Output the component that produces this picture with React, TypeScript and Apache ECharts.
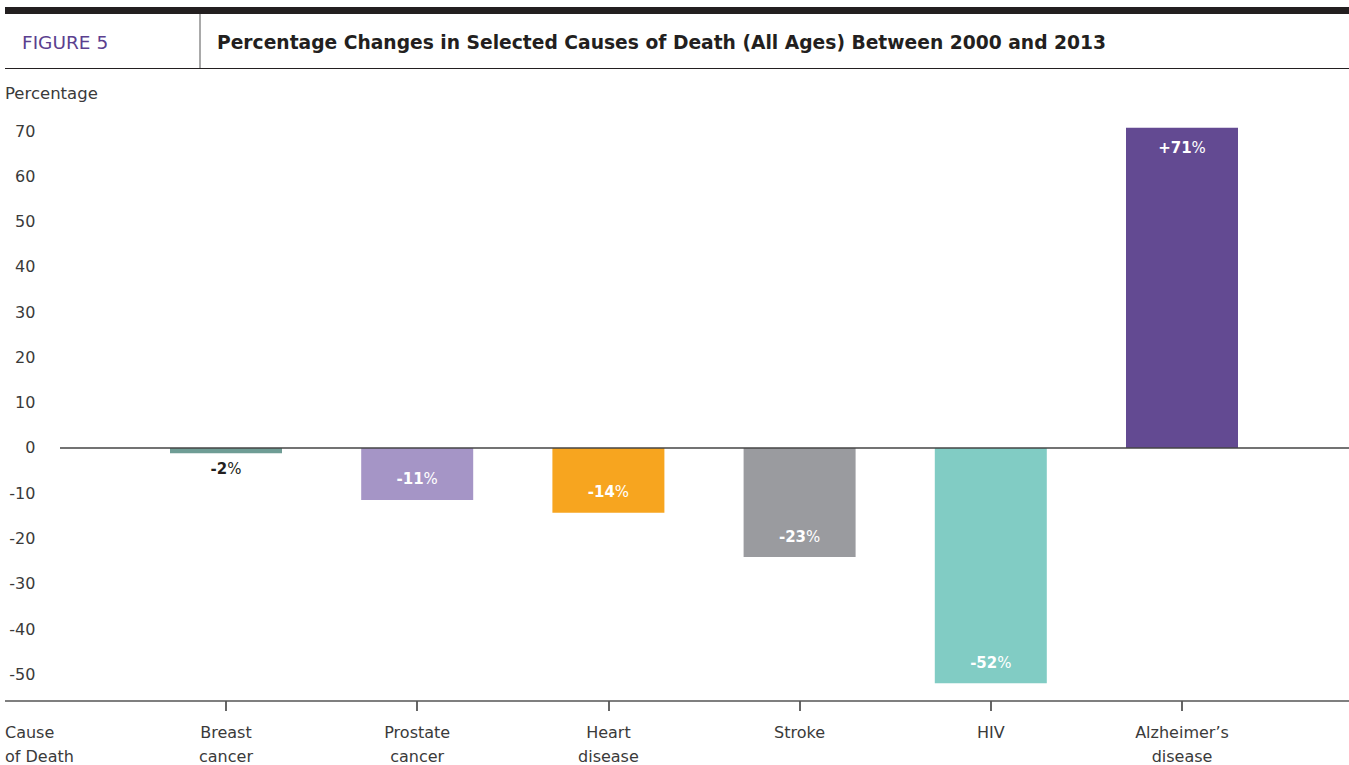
import React, { useEffect, useRef } from "react";
import * as echarts from "echarts";

const categories = ["Breast\ncancer", "Prostate\ncancer", "Heart\ndisease", "Stroke", "HIV", "Alzheimer’s\ndisease"];
const values = [-1.2, -11.5, -14.3, -24.1, -52, 70.7];
const valueLabels = ["-2", "-11", "-14", "-23", "-52", "+71"];
const barColors = ["#6f9d95", "#a595c6", "#f7a51f", "#9a9b9f", "#81ccc4", "#634a92"];
const yTicks = [-50, -40, -30, -20, -10, 0, 10, 20, 30, 40, 50, 60, 70];

const FONT = "'DejaVu Sans', 'Noto Sans', sans-serif";
const TEXT = "#3a3a3a";
const Y_MIN = -55.9;
const Y_MAX = 75.2;

export default function App() {
  const ref = useRef<HTMLDivElement>(null);

  useEffect(() => {
    document.body.style.margin = "0";
    if (!ref.current) return;
    const chart = echarts.init(ref.current, null, { renderer: "svg" });

    const data = values.map((v, i) => {
      const outside = Math.abs(v) < 5;
      const c = outside ? "#231f20" : "#ffffff";
      return {
        value: v,
        itemStyle: { color: barColors[i] },
        label: {
          show: true,
          position: v >= 0 ? "insideTop" : outside ? "bottom" : "insideBottom",
          distance: outside ? 8 : 13,
          formatter: `{n|${valueLabels[i]}}{p|%}`,
          rich: {
            n: { fontFamily: FONT, fontSize: 15, fontWeight: 700, color: c },
            p: { fontFamily: FONT, fontSize: 15, fontWeight: 400, color: c },
          },
        },
      };
    });

    chart.setOption({
      animation: false,
      backgroundColor: "#ffffff",
      textStyle: { fontFamily: FONT },
      grid: { left: 130.4, right: 71.4, top: 107.5, bottom: 64, containLabel: false, outerBoundsMode: "none" },
      xAxis: {
        type: "category",
        data: categories,
        axisLine: { show: false, onZero: false },
        axisTick: { show: true, alignWithLabel: true, length: 10, lineStyle: { color: "#333", width: 1.5 } },
        axisLabel: { color: TEXT, fontSize: 16, lineHeight: 24, margin: 19, fontFamily: FONT, interval: 0 },
        splitLine: { show: false },
      },
      yAxis: {
        type: "value",
        min: Y_MIN,
        max: Y_MAX,
        axisLine: { show: false },
        axisTick: { show: false },
        splitLine: { show: false },
        axisLabel: {
          customValues: yTicks,
          color: TEXT,
          fontSize: 16,
          margin: 95,
          fontFamily: FONT,
          formatter: (v: number) => String(v),
        },
      },
      series: [
        {
          type: "bar",
          data,
          barWidth: 112,
        },
      ],
    });

    const y0 = chart.convertToPixel({ yAxisIndex: 0 }, 0) as number;
    const yBottom = chart.convertToPixel({ yAxisIndex: 0 }, Y_MIN) as number;

    chart.setOption({
      graphic: [
        { type: "rect", shape: { x: 5, y: 7, width: 1344, height: 7 }, style: { fill: "#231f20" } },
        { type: "line", shape: { x1: 200, y1: 14, x2: 200, y2: 68 }, style: { stroke: "#555", lineWidth: 1 } },
        { type: "line", shape: { x1: 5, y1: 68.5, x2: 1349, y2: 68.5 }, style: { stroke: "#231f20", lineWidth: 1.2 } },
        {
          type: "text",
          x: 22,
          y: 42,
          style: {
            text: "FIGURE 5",
            fontFamily: FONT,
            fontSize: 18.5,
            fill: "#5b3f8f",
            verticalAlign: "middle",
          },
        },
        {
          type: "text",
          x: 217,
          y: 42,
          style: {
            text: "Percentage Changes in Selected Causes of Death (All Ages) Between 2000 and 2013",
            fontFamily: FONT,
            fontSize: 18.7,
            fontWeight: 700,
            fill: "#231f20",
            verticalAlign: "middle",
          },
        },
        {
          type: "text",
          x: 5,
          y: 93,
          style: { text: "Percentage", fontFamily: FONT, fontSize: 16.5, fill: TEXT, verticalAlign: "middle" },
        },
        {
          type: "text",
          x: 5,
          y: 720,
          style: {
            text: "Cause\nof Death",
            fontFamily: FONT,
            fontSize: 16,
            lineHeight: 24,
            fill: TEXT,
            verticalAlign: "top",
          },
        },
        { type: "line", z: 10, shape: { x1: 60, y1: y0, x2: 1349, y2: y0 }, style: { stroke: "#444", lineWidth: 1.5 } },
        { type: "line", z: 10, shape: { x1: 5, y1: yBottom, x2: 1349, y2: yBottom }, style: { stroke: "#555", lineWidth: 1.5 } },
      ],
    });

    return () => chart.dispose();
  }, []);

  return <div ref={ref} style={{ width: 1349, height: 765 }} />;
}
